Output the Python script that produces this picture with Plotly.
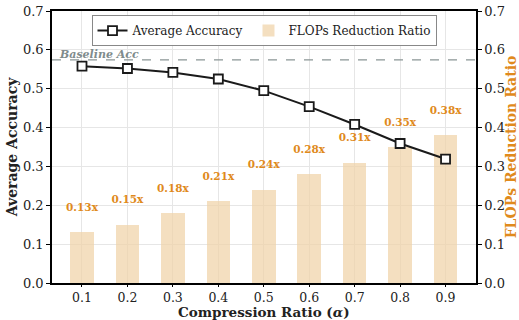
import plotly.graph_objects as go

ratios = [0.1, 0.2, 0.3, 0.4, 0.5, 0.6, 0.7, 0.8, 0.9]
tick_labels = ["0.1", "0.2", "0.3", "0.4", "0.5", "0.6", "0.7", "0.8", "0.9"]
avg_accuracy = [0.558, 0.552, 0.542, 0.525, 0.495, 0.454, 0.408, 0.359, 0.319]
flops_ratio = [0.13, 0.15, 0.18, 0.21, 0.24, 0.28, 0.31, 0.35, 0.38]
flops_labels = ["0.13x", "0.15x", "0.18x", "0.21x", "0.24x", "0.28x", "0.31x", "0.35x", "0.38x"]
baseline_acc = 0.574

FONT = "DejaVu Serif, Liberation Serif, serif"
ORANGE = "#e08a1c"

fig = go.Figure()

fig.add_trace(go.Scatter(
    x=ratios, y=avg_accuracy, mode="lines+markers", name="Average Accuracy",
    line=dict(color="#1a1a1a", width=2),
    marker=dict(symbol="square", size=9, color="white", line=dict(color="#1a1a1a", width=1.8)),
    yaxis="y2",
))
fig.add_trace(go.Bar(
    x=ratios, y=flops_ratio, name="FLOPs Reduction Ratio", width=0.052,
    marker=dict(color="rgba(240,210,165,0.7)", line=dict(width=0)),
    yaxis="y",
))
fig.add_trace(go.Scatter(
    x=ratios, y=[v + 0.062 for v in flops_ratio], mode="text", text=flops_labels,
    textfont=dict(family=FONT, size=10.5, color=ORANGE, weight="bold"),
    showlegend=False, hoverinfo="skip", yaxis="y",
))

fig.add_shape(type="line", xref="paper", x0=0, x1=1, yref="y", y0=baseline_acc, y1=baseline_acc,
              line=dict(color="#8a9595", width=1.2, dash="dash"))
fig.add_annotation(xref="paper", x=0.012, yref="y", y=baseline_acc, text="<b><i>Baseline Acc</i></b>",
                   showarrow=False, xanchor="left", yanchor="bottom", yshift=-3,
                   font=dict(family=FONT, size=11, color="#7f8c8d"))
fig.add_annotation(xref="paper", x=0.5, yref="paper", y=-0.107, text="<b>Compression Ratio (<i>α</i>)</b>",
                   showarrow=False, xanchor="center", yanchor="middle", borderpad=0,
                   font=dict(family=FONT, size=13.5, color="#222"))

fig.update_layout(
    width=519, height=320,
    margin=dict(l=52, r=43, t=11, b=37, autoexpand=False),
    plot_bgcolor="white", paper_bgcolor="white",
    font=dict(family=FONT, size=13, color="#222"),
    showlegend=True,
    legend=dict(orientation="h", x=0.5, xanchor="center", y=0.985, yanchor="top",
                bordercolor="#888", borderwidth=1, bgcolor="rgba(255,255,255,0.9)",
                font=dict(family=FONT, size=12, color="#222"), itemwidth=30),
    xaxis=dict(range=[0.034, 0.967], tickvals=ratios, ticktext=tick_labels, automargin=False,
               showgrid=True, gridcolor="#e6e6e6", gridwidth=1,
               showline=True, linecolor="black", linewidth=1.5, mirror=True,
               ticks="outside", ticklen=2, tickcolor="black",
               tickfont=dict(size=12.5),
               zeroline=False),
    yaxis=dict(range=[0, 0.7], dtick=0.1, tickformat=".1f", automargin=False,
               showgrid=True, gridcolor="#e6e6e6", gridwidth=1,
               showline=True, linecolor="black", linewidth=1.5,
               ticks="outside", ticklen=4, tickcolor="black", zeroline=False,
               title=dict(text="<b>Average Accuracy</b>", font=dict(family=FONT, size=14, color="#222"), standoff=2)),
    yaxis2=dict(range=[0, 0.7], dtick=0.1, tickformat=".1f", overlaying="y", side="right", automargin=False,
                showgrid=False, showline=True, linecolor="black", linewidth=1.5,
                ticks="outside", ticklen=4, tickcolor="black", zeroline=False,
                title=dict(text="<b>FLOPs Reduction Ratio</b>", font=dict(family=FONT, size=14, color=ORANGE), standoff=6)),
    bargap=0,
)

fig.write_html("out.html", config={"displayModeBar": False},
               post_script="document.body.style.margin='0';document.body.style.overflow='hidden';")
